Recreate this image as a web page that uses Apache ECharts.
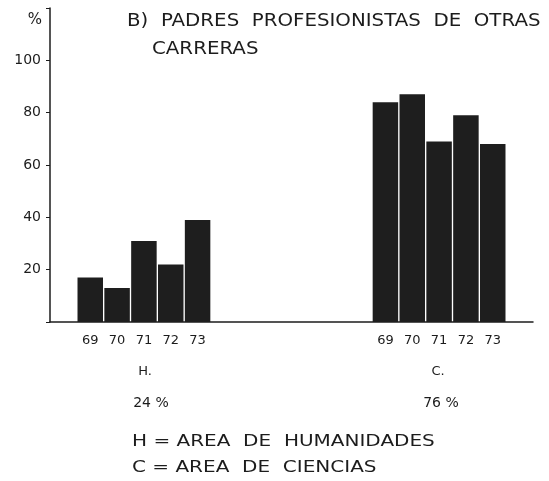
<!DOCTYPE html>
<html>
<head>
<meta charset="utf-8">
<script src="https://cdn.jsdelivr.net/npm/echarts@6/dist/echarts.min.js"></script>
<style>
  html, body { margin: 0; padding: 0; background: #fff; }
  #chart { width: 549px; height: 481px; }
</style>
</head>
<body>
<div id="chart"></div>
<script>
// datos
var years = ['69', '70', '71', '72', '73'];
var humanidades = [17, 13, 31, 22, 39];
var ciencias = [84, 87, 69, 79, 68];
var groupNames = ['H.', 'C.'];
var groupShares = ['24 %', '76 %'];
var yTicks = [20, 40, 60, 80, 100];

// 18 posiciones: hueco, H (5), hueco (6), C (5), hueco
var cats = [];
var values = [];
function gap(n) {
  for (var i = 0; i < n; i++) { cats.push(''); values.push(null); }
}
gap(1);
years.forEach(function (y, i) { cats.push(y); values.push(humanidades[i]); });
gap(6);
years.forEach(function (y, i) { cats.push(y); values.push(ciencias[i]); });
gap(1);

var font = 'DejaVu Sans';
var ink = '#1c1c1c';

// texto ensanchado (la tipografia original es muy abierta)
function wide(text, x, y, size, sx) {
  return {
    type: 'text', x: x, y: y, scaleX: sx, scaleY: 1,
    style: { text: text, font: size + 'px ' + font, fill: ink, verticalAlign: 'middle' }
  };
}
function centered(text, x, y, size) {
  return {
    type: 'text', x: x, y: y,
    style: { text: text, font: size + 'px ' + font, fill: ink, align: 'center', verticalAlign: 'middle' }
  };
}

var chart = echarts.init(document.getElementById('chart'));
chart.setOption({
  animation: false,
  backgroundColor: '#fff',
  grid: { left: 50, right: 16, top: 8, bottom: 159, containLabel: false },
  xAxis: {
    type: 'category',
    data: cats,
    axisLine: { lineStyle: { color: ink, width: 1.5 } },
    axisTick: { show: false },
    axisLabel: { interval: 0, margin: 12, fontFamily: font, fontSize: 13, color: ink }
  },
  yAxis: {
    type: 'value',
    min: 0,
    max: 120,
    interval: 20,
    splitLine: { show: false },
    axisLine: { show: true, lineStyle: { color: ink, width: 1.5 } },
    axisTick: { show: true, length: 4, lineStyle: { color: ink } },
    axisLabel: {
      margin: 9, fontFamily: font, fontSize: 14, color: ink,
      formatter: function (v) { return yTicks.indexOf(v) >= 0 ? String(v) : ''; }
    }
  },
  series: [{
    type: 'bar',
    data: values,
    barWidth: '95%',
    itemStyle: { color: '#1e1e1e' }
  }],
  graphic: [
    centered('%', 35, 20, 15),
    wide('B)  PADRES  PROFESIONISTAS  DE  OTRAS', 127, 21, 18, 1.1),
    wide('CARRERAS', 152, 49, 18, 1.1),
    centered(groupNames[0], 145, 372, 13),
    centered(groupNames[1], 438, 372, 13),
    centered(groupShares[0], 151, 403, 14),
    centered(groupShares[1], 441, 403, 14),
    wide('H = AREA  DE  HUMANIDADES', 132, 442, 16, 1.25),
    wide('C = AREA  DE  CIENCIAS', 132, 468, 16, 1.25)
  ]
});
</script>
</body>
</html>
